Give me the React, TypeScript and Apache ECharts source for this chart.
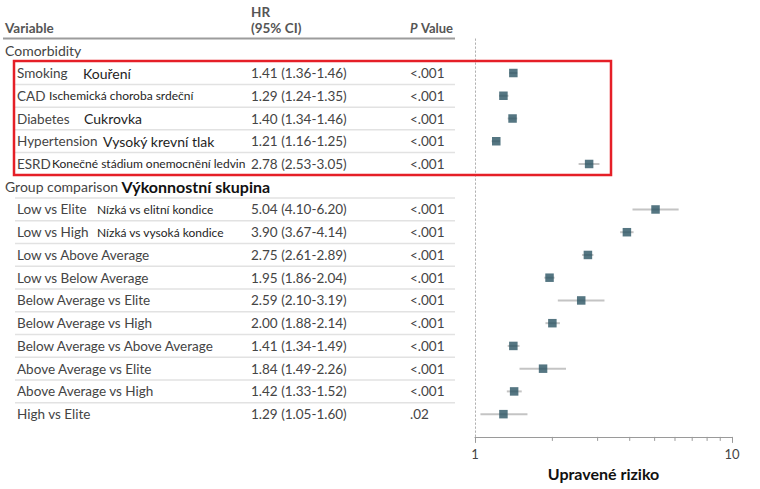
import React, { useEffect, useRef } from "react";
import * as echarts from "echarts";

// ---- Data ----
const comorbidityLabels = ["Smoking", "CAD", "Diabetes", "Hypertension", "ESRD"];
const comorbidityCz = [
  "Kouření",
  "Ischemická choroba srdeční",
  "Cukrovka",
  "Vysoký krevní tlak",
  "Konečné stádium onemocnění ledvin",
];
const comorbidityHR = [1.41, 1.29, 1.4, 1.21, 2.78];
const comorbidityLow = [1.36, 1.24, 1.34, 1.16, 2.53];
const comorbidityHigh = [1.46, 1.35, 1.46, 1.25, 3.05];
const comorbidityP = ["<.001", "<.001", "<.001", "<.001", "<.001"];

const groupLabels = [
  "Low vs Elite",
  "Low vs High",
  "Low vs Above Average",
  "Low vs Below Average",
  "Below Average vs Elite",
  "Below Average vs High",
  "Below Average vs Above Average",
  "Above Average vs Elite",
  "Above Average vs High",
  "High vs Elite",
];
const groupCz = ["Nízká vs elitní kondice", "Nízká vs vysoká kondice", "", "", "", "", "", "", "", ""];
const groupHR = [5.04, 3.9, 2.75, 1.95, 2.59, 2.0, 1.41, 1.84, 1.42, 1.29];
const groupLow = [4.1, 3.67, 2.61, 1.86, 2.1, 1.88, 1.34, 1.49, 1.33, 1.05];
const groupHigh = [6.2, 4.14, 2.89, 2.04, 3.19, 2.14, 1.49, 2.26, 1.52, 1.6];
const groupP = ["<.001", "<.001", "<.001", "<.001", "<.001", "<.001", "<.001", "<.001", "<.001", ".02"];

const sectionComorbidity = "Comorbidity";
const sectionGroup = "Group comparison";
const sectionGroupCz = "Výkonnostní skupina";
const xTickMinor = [2, 3, 4, 5, 6, 7, 8, 9];
const axisTitle = "Upravené riziko";

// ---- Layout (not data) ----
const comorbidityCzX = [83, 49, 84, 103, 52];
const comorbidityCzSize = [14, 12, 14, 14, 12];
const groupCzX = [97, 97];
const groupCzSize = [12, 12];

type Row = {
  kind: "section" | "item";
  label: string;
  cz?: string;
  czX?: number;
  czSize?: number;
  hr?: number;
  lo?: number;
  hi?: number;
  p?: string;
  rich?: boolean;
};

const rows: Row[] = [];
rows.push({ kind: "section", label: sectionComorbidity });
comorbidityLabels.forEach((l, i) =>
  rows.push({
    kind: "item",
    label: l,
    cz: comorbidityCz[i],
    czX: comorbidityCzX[i],
    czSize: comorbidityCzSize[i],
    hr: comorbidityHR[i],
    lo: comorbidityLow[i],
    hi: comorbidityHigh[i],
    p: comorbidityP[i],
  })
);
rows.push({ kind: "section", label: sectionGroup, cz: sectionGroupCz, rich: true });
groupLabels.forEach((l, i) =>
  rows.push({
    kind: "item",
    label: l,
    cz: groupCz[i],
    czX: groupCzX[i],
    czSize: groupCzSize[i],
    hr: groupHR[i],
    lo: groupLow[i],
    hi: groupHigh[i],
    p: groupP[i],
  })
);

const N = rows.length; // 17
const FONT = "Lato, 'Noto Sans', sans-serif";
const TXT = "#444444";
const CZ = "#1e1e1e";

const fmt = (v: number) => v.toFixed(2);

export default function App() {
  const ref = useRef<HTMLDivElement>(null);
  useEffect(() => {
    document.body.style.margin = "0";
    if (!ref.current) return;
    const chart = echarts.init(ref.current, undefined, { renderer: "svg" });

    const top = 38.9;
    const bottom = 52.1;

    const tableData = rows.map((_, i) => [0, i]);
    const ciData: number[][] = [];
    const ptData: number[][] = [];
    rows.forEach((r, i) => {
      if (r.kind === "item" && r.hr !== undefined) {
        ciData.push([r.lo as number, i, r.hi as number]);
        ptData.push([r.hr, i]);
      }
    });

    const option: any = {
      animation: false,
      textStyle: { fontFamily: FONT },
      grid: [
        { left: 0, top, width: 460, bottom },
        { left: 475, top, right: 28, bottom },
      ],
      xAxis: [
        { gridIndex: 0, type: "value", min: 0, max: 460, show: false },
        {
          gridIndex: 1,
          type: "log",
          logBase: 10,
          min: 1,
          max: 10,
          position: "bottom",
          axisLine: { show: true, onZero: false, lineStyle: { color: "#9a9a9a", width: 1.2 } },
          axisTick: { show: true, length: 6, lineStyle: { color: "#9a9a9a" } },
          axisLabel: { fontSize: 13, color: "#444", margin: 11, fontFamily: FONT },
          splitLine: { show: false },
          name: axisTitle,
          nameLocation: "middle",
          nameGap: 25,
          nameTextStyle: { fontSize: 16, fontWeight: "bold", color: "#111", fontFamily: FONT },
        },
      ],
      yAxis: [
        { gridIndex: 0, type: "value", inverse: true, min: -0.5, max: N, show: false },
        {
          gridIndex: 1,
          type: "value",
          inverse: true,
          min: -0.5,
          max: N,
          position: "left",
          axisLine: { show: true, onZero: false, lineStyle: { color: "#b0b0b0", type: [1.5, 2.5], width: 1 } },
          axisTick: { show: false },
          axisLabel: { show: false },
          splitLine: { show: false },
        },
      ],
      series: [
        {
          type: "custom",
          xAxisIndex: 0,
          yAxisIndex: 0,
          data: tableData,
          encode: { x: 0, y: 1 },
          clip: false,
          renderItem: (params: any, api: any) => {
            const idx = api.value(1);
            const r = rows[idx];
            const y = api.coord([0, idx])[1];
            const yNext = api.coord([0, idx + 0.5])[1];
            const children: any[] = [];
            if (r.kind === "section") {
              if (r.rich) {
                children.push({
                  type: "text",
                  style: {
                    x: 5,
                    y,
                    text: `{a|${r.label}} {b|${r.cz}}`,
                    verticalAlign: "middle",
                    rich: {
                      a: { fontSize: 14, fill: TXT, fontFamily: FONT },
                      b: { fontSize: 16, fontWeight: "bold", fill: "#111", fontFamily: FONT },
                    },
                  },
                });
              } else {
                children.push({
                  type: "text",
                  style: { x: 5, y, text: r.label, fontSize: 14, fill: TXT, verticalAlign: "middle", fontFamily: FONT },
                });
              }
            } else {
              children.push({
                type: "text",
                style: { x: 17, y, text: r.label, fontSize: 13.5, fill: TXT, verticalAlign: "middle", fontFamily: FONT },
              });
              if (r.cz) {
                children.push({
                  type: "text",
                  style: {
                    x: r.czX,
                    y,
                    text: r.cz,
                    fontSize: r.czSize,
                    fill: CZ,
                    verticalAlign: "middle",
                    fontFamily: FONT,
                  },
                });
              }
              children.push({
                type: "text",
                style: {
                  x: 251,
                  y,
                  text: `${fmt(r.hr as number)} (${fmt(r.lo as number)}-${fmt(r.hi as number)})`,
                  fontSize: 13.5,
                  fill: TXT,
                  verticalAlign: "middle",
                  fontFamily: FONT,
                },
              });
              children.push({
                type: "text",
                style: { x: 410, y, text: r.p, fontSize: 13.5, fill: TXT, verticalAlign: "middle", fontFamily: FONT },
              });
            }
            if (idx > 0 && idx < N - 1) {
              children.push({
                type: "line",
                shape: { x1: 15, y1: yNext, x2: 455, y2: yNext },
                style: { stroke: "#e2e2e2", lineWidth: 1.5 },
              });
            }
            return { type: "group", children };
          },
        },
        {
          type: "custom",
          xAxisIndex: 1,
          yAxisIndex: 1,
          data: ciData,
          encode: { x: [0, 2], y: 1 },
          renderItem: (params: any, api: any) => {
            const a = api.coord([api.value(0), api.value(1)]);
            const b = api.coord([api.value(2), api.value(1)]);
            return {
              type: "line",
              shape: { x1: a[0], y1: a[1], x2: b[0], y2: b[1] },
              style: { stroke: "#c4c4c4", lineWidth: 2 },
            };
          },
          z: 2,
        },
        {
          type: "scatter",
          xAxisIndex: 1,
          yAxisIndex: 1,
          data: ptData,
          symbol: "rect",
          symbolSize: 8.5,
          itemStyle: { color: "#2a5463" },
          z: 3,
        },
        {
          type: "custom",
          xAxisIndex: 1,
          yAxisIndex: 1,
          data: xTickMinor.map((v) => [v, N]),
          encode: { x: 0, y: 1 },
          clip: false,
          renderItem: (params: any, api: any) => {
            const p = api.coord([api.value(0), api.value(1)]);
            return {
              type: "line",
              shape: { x1: p[0], y1: p[1], x2: p[0], y2: p[1] + 4 },
              style: { stroke: "#9a9a9a", lineWidth: 1 },
            };
          },
        },
      ],
      graphic: [
        {
          type: "text",
          style: { x: 5, y: 28, text: "Variable", fontSize: 13.5, fontWeight: "bold", fill: "#555", verticalAlign: "middle", fontFamily: FONT },
        },
        {
          type: "text",
          style: { x: 251, y: 12, text: "HR", fontSize: 13.5, fontWeight: "bold", fill: "#555", verticalAlign: "middle", fontFamily: FONT },
        },
        {
          type: "text",
          style: { x: 251, y: 28, text: "(95% CI)", fontSize: 13.5, fontWeight: "bold", fill: "#555", verticalAlign: "middle", fontFamily: FONT },
        },
        {
          type: "text",
          style: {
            x: 410,
            y: 28,
            text: "{i|P} {n|Value}",
            verticalAlign: "middle",
            rich: {
              i: { fontSize: 13, fontWeight: "bold", fontStyle: "italic", fill: "#555", fontFamily: FONT },
              n: { fontSize: 13, fontWeight: "bold", fill: "#555", fontFamily: FONT },
            },
          },
        },
        {
          type: "line",
          shape: { x1: 3, y1: 38.5, x2: 455, y2: 38.5 },
          style: { stroke: "#9c9c9c", lineWidth: 2 },
        },
        {
          type: "rect",
          z: 100,
          shape: { x: 14, y: 61, width: 597, height: 114 },
          style: { fill: "none", stroke: "#e51f27", lineWidth: 2.5 },
        },
      ],
    };
    chart.setOption(option);
    return () => chart.dispose();
  }, []);
  return <div ref={ref} style={{ width: 760, height: 489 }} />;
}
